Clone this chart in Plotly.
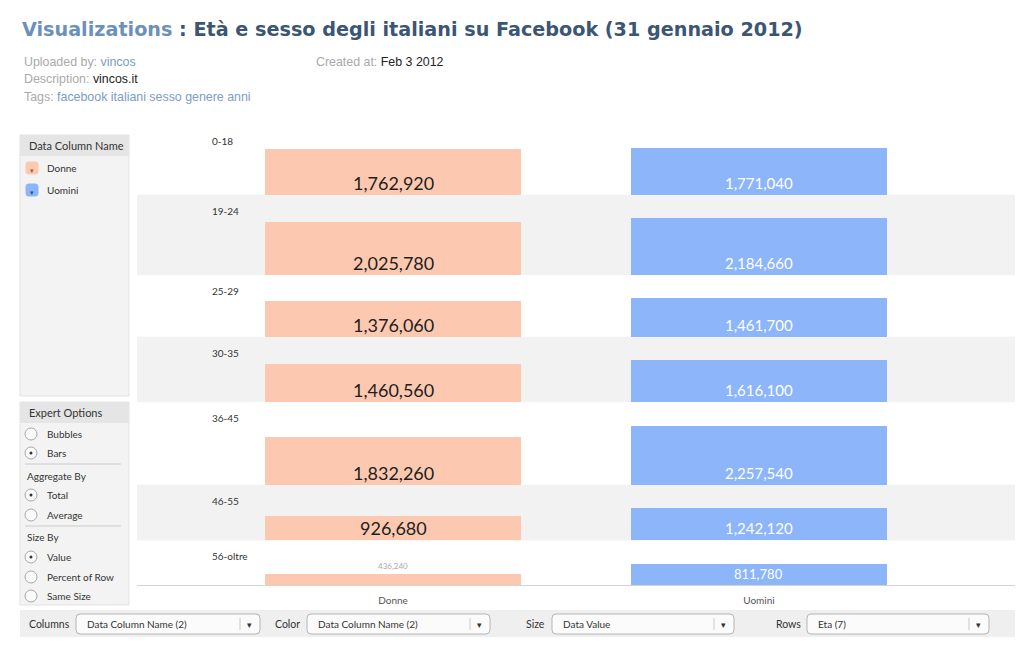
import plotly.graph_objects as go

# ---------------- data ----------------
ages = ["0-18", "19-24", "25-29", "30-35", "36-45", "46-55", "56-oltre"]
series_names = ["Donne", "Uomini"]
donne = [1762920, 2025780, 1376060, 1460560, 1832260, 926680, 436240]
uomini = [1771040, 2184660, 1461700, 1616100, 2257540, 1242120, 811780]

W, H = 1024, 646
PAD = 890000          # label space on top of each row (value units)
C_DONNE = "#fcc9b0"
C_UOMINI = "#8cb5fa"
BAND = "#f2f2f2"
UI_FONT = "Lato"


def px(x):
    return x / W


def py(y):
    return 1 - y / H


fig = go.Figure()
shapes = []
annos = []

# ---------------- row layout from data ----------------
row_max = [max(d, u) for d, u in zip(donne, uomini)]
total = sum(m + PAD for m in row_max)
tops, bottoms = [], []
cur = total
for m in row_max:
    tops.append(cur)
    cur -= m + PAD
    bottoms.append(cur)

# alternating bands
for i, (t, b) in enumerate(zip(tops, bottoms)):
    if i % 2 == 1:
        shapes.append(dict(type="rect", xref="paper", yref="y", x0=px(137), x1=px(1015),
                           y0=b, y1=t, fillcolor=BAND, line=dict(width=0), layer="below"))

fig.add_trace(go.Bar(x=[series_names[0]] * len(ages), y=donne, base=bottoms, width=0.70,
                     marker=dict(color=C_DONNE, line=dict(width=0)), name="Donne",
                     hoverinfo="skip"))
fig.add_trace(go.Bar(x=[series_names[1]] * len(ages), y=uomini, base=bottoms, width=0.70,
                     marker=dict(color=C_UOMINI, line=dict(width=0)), name="Uomini",
                     hoverinfo="skip"))

# row labels and value labels
for i, age in enumerate(ages):
    annos.append(dict(x=-0.5, y=tops[i], xref="x", yref="y", text=age, showarrow=False,
                      xanchor="left", yanchor="top", yshift=-8,
                      font=dict(family=UI_FONT, size=10, color="#333")))
    d = donne[i]
    if d > 600000:
        annos.append(dict(x=0, y=bottoms[i], xref="x", yref="y", text=f"{d:,}", showarrow=False,
                          xanchor="center", yanchor="bottom", yshift=-1,
                          font=dict(family=UI_FONT, size=18, color="#1e1e1e")))
    else:
        annos.append(dict(x=0, y=bottoms[i] + d, xref="x", yref="y", text=f"{d:,}", showarrow=False,
                          xanchor="center", yanchor="bottom", yshift=1,
                          font=dict(family=UI_FONT, size=8, color="#aaaaaa")))
    u = uomini[i]
    annos.append(dict(x=1, y=bottoms[i], xref="x", yref="y", text=f"{u:,}", showarrow=False,
                      xanchor="center", yanchor="bottom", yshift=1,
                      font=dict(family=UI_FONT, size=15 if u > 1000000 else 13, color="white")))

# ---------------- header text ----------------
annos.append(dict(x=px(20), y=py(30), xref="paper", yref="paper", showarrow=False,
                  xanchor="left", yanchor="middle",
                  text="<b><span style='color:#6b91bb'>Visualizations</span> : Età e sesso degli italiani su Facebook (31 gennaio 2012)</b>",
                  font=dict(family="DejaVu Sans", size=19.2, color="#3b5675")))

meta = [
    (22, 62, "<span style='color:#aaaaaa'>Uploaded by: </span><span style='color:#7b9dc6'>vincos</span>"),
    (22, 79, "<span style='color:#aaaaaa'>Description: </span><span style='color:#222'>vincos.it</span>"),
    (22, 97, "<span style='color:#aaaaaa'>Tags: </span><span style='color:#7b9dc6'>facebook italiani sesso genere anni</span>"),
    (314, 62, "<span style='color:#aaaaaa'>Created at: </span><span style='color:#222'>Feb 3 2012</span>"),
]
for x, y, t in meta:
    annos.append(dict(x=px(x), y=py(y), xref="paper", yref="paper", showarrow=False,
                      xanchor="left", yanchor="middle", text=t,
                      font=dict(family="Liberation Sans", size=12.4, color="#aaaaaa")))


def prect(x0, y0, x1, y1, fill, line_color=None, lw=1, layer="above"):
    shapes.append(dict(type="rect", xref="paper", yref="paper", x0=px(x0), x1=px(x1),
                       y0=py(y1), y1=py(y0), fillcolor=fill,
                       line=dict(width=lw if line_color else 0, color=line_color or fill),
                       layer=layer))


def rrect(x0, y0, x1, y1, r, fill, line_color, lw=1):
    p = (f"M {px(x0+r)},{py(y0)} L {px(x1-r)},{py(y0)} Q {px(x1)},{py(y0)} {px(x1)},{py(y0+r)} "
         f"L {px(x1)},{py(y1-r)} Q {px(x1)},{py(y1)} {px(x1-r)},{py(y1)} "
         f"L {px(x0+r)},{py(y1)} Q {px(x0)},{py(y1)} {px(x0)},{py(y1-r)} "
         f"L {px(x0)},{py(y0+r)} Q {px(x0)},{py(y0)} {px(x0+r)},{py(y0)} Z")
    shapes.append(dict(type="path", xref="paper", yref="paper", path=p, fillcolor=fill,
                       line=dict(width=lw, color=line_color)))


def ptext(x, y, s, size=10.5, color="#333", anchor="left", family=UI_FONT):
    annos.append(dict(x=px(x), y=py(y), xref="paper", yref="paper", showarrow=False,
                      xanchor=anchor, yanchor="middle", text=s,
                      font=dict(family=family, size=size, color=color)))


def pline(x0, y0, x1, y1, color, w=1):
    shapes.append(dict(type="line", xref="paper", yref="paper", x0=px(x0), x1=px(x1),
                       y0=py(y0), y1=py(y1), line=dict(color=color, width=w)))


# ---------------- left panel 1 (legend) ----------------
prect(20, 135, 129, 396, "#f3f3f3", "#e2e2e2")
prect(20, 135, 129, 156, "#e5e5e5")
ptext(27, 146, "Data Column Name", 11, "#333")
for name, col, yc, arrow in [("Donne", C_DONNE, 168, "#a05a3a"), ("Uomini", C_UOMINI, 190, "#2c4f8f")]:
    rrect(26, yc - 6, 38, yc + 6, 2.5, col, col)
    ptext(32, yc + 2, "▾", 7, arrow, "center")
    ptext(45, yc, name, 10, "#333")

# ---------------- left panel 2 (options) ----------------
prect(20, 402, 129, 605, "#f3f3f3", "#e2e2e2")
prect(20, 402, 129, 423, "#e5e5e5")
ptext(27, 412, "Expert Options", 11, "#333")
radios = [(434, "Bubbles", False), (453, "Bars", True), (495, "Total", True),
          (515, "Average", False), (557, "Value", True), (577, "Percent of Row", False),
          (596, "Same Size", False)]
for yc, lab, sel in radios:
    shapes.append(dict(type="circle", xref="paper", yref="paper", x0=px(25), x1=px(37),
                       y0=py(yc + 6), y1=py(yc - 6), fillcolor="#fafafa",
                       line=dict(color="#a8a8a8", width=1)))
    if sel:
        shapes.append(dict(type="circle", xref="paper", yref="paper", x0=px(29.5), x1=px(32.5),
                           y0=py(yc + 1.5), y1=py(yc - 1.5), fillcolor="#333",
                           line=dict(color="#333", width=0)))
    ptext(45, yc, lab, 10, "#333")
ptext(25, 476, "Aggregate By", 10, "#333")
ptext(25, 537, "Size By", 10, "#333")
pline(25, 464, 121, 464, "#d8d8d8", 1.5)
pline(25, 526, 121, 526, "#d8d8d8", 1.5)

# ---------------- bottom controls ----------------
prect(20, 610, 1015, 637, "#efefef")
controls = [("Columns", 72, 76, 260, "Data Column Name (2)"),
            ("Color", 302, 307, 490, "Data Column Name (2)"),
            ("Size", 547, 552, 734, "Data Value"),
            ("Rows", 803, 807, 989, "Eta (7)")]
for lab, lx, bx0, bx1, val in controls:
    ptext(lx, 624, lab, 10.5, "#333", "right")
    rrect(bx0, 614, bx1, 634, 4, "#fbfbfb", "#b5b5b5")
    ptext(bx0 + 9, 624, val, 10, "#333")
    pline(bx1 - 20, 618, bx1 - 20, 630, "#c8c8c8")
    ptext(bx1 - 11, 624, "▾", 9, "#333", "center")

# ---------------- layout ----------------
fig.update_layout(
    width=W, height=H, margin=dict(l=0, r=0, t=0, b=0),
    paper_bgcolor="white", plot_bgcolor="rgba(0,0,0,0)",
    showlegend=False, barmode="overlay", bargap=0,
    xaxis=dict(domain=[px(137), px(1015)], range=[-0.6995, 1.6995], type="category",
               categoryorder="array", categoryarray=series_names,
               showgrid=False, zeroline=False, showline=True, linecolor="#d4d4d4",
               linewidth=1, ticks="", ticklabelstandoff=6,
               tickfont=dict(family=UI_FONT, size=10, color="#555"), fixedrange=True),
    yaxis=dict(domain=[py(585), py(125)], range=[0, total], visible=False,
               showgrid=False, zeroline=False, fixedrange=True),
    shapes=shapes, annotations=annos,
)

fig.write_html("out.html", config={"displayModeBar": False})
